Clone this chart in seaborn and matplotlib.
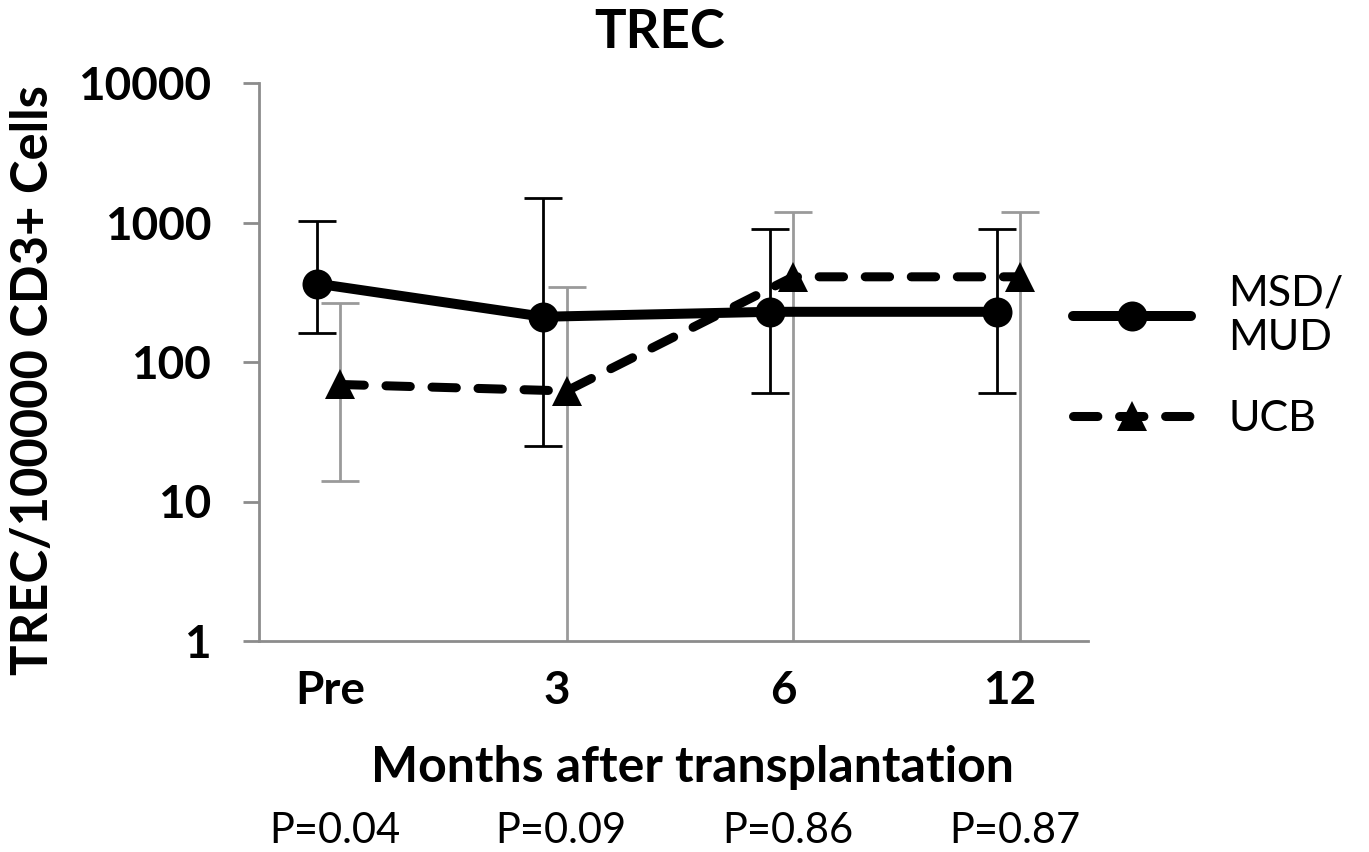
import numpy as np
import pandas as pd
import matplotlib
matplotlib.use("Agg")
import matplotlib.pyplot as plt
import matplotlib.transforms as mtransforms
from matplotlib.ticker import NullLocator
import seaborn as sns

# Time points and group summaries (TREC per 100000 CD3+ cells)
categories = ["Pre", "3", "6", "12"]
msd_mean = [365, 211, 229, 229]
msd_upper = [1020, 1500, 900, 900]
msd_lower = [162, 25, 60, 60]
ucb_mean = [69, 62, 408, 408]
ucb_upper = [266, 346, 1190, 1190]
ucb_lower = [14, 0.5, 0.5, 0.5]
p_values = ["P=0.04", "P=0.09", "P=0.86", "P=0.87"]
y_ticks = [1, 10, 100, 1000, 10000]

sns.set_theme(style="white")
plt.rcParams["font.family"] = ["Lato", "DejaVu Sans"]
plt.rcParams["text.color"] = "black"
plt.rcParams["axes.labelcolor"] = "black"
plt.rcParams["xtick.color"] = "black"
plt.rcParams["ytick.color"] = "black"

W, H = 1369, 852
fig = plt.figure(figsize=(W / 100, H / 100), dpi=100)
ax = fig.add_axes([259 / W, 1 - 641 / H, (1088 - 259) / W, (641 - 83) / H])

pos = np.arange(len(categories))
msd = pd.DataFrame({"x": pos - 0.059, "value": msd_mean,
                    "lo": msd_lower, "hi": msd_upper})
ucb = pd.DataFrame({"x": pos + 0.044, "value": ucb_mean,
                    "lo": ucb_lower, "hi": ucb_upper})

# asymmetric error bars
for d, col in ((msd, "black"), (ucb, "#9a9a9a")):
    ax.errorbar(d["x"], d["value"],
                yerr=[d["value"] - d["lo"], d["hi"] - d["value"]],
                fmt="none", ecolor=col, elinewidth=2, capsize=13.5,
                capthick=2, zorder=2)

sns.lineplot(data=msd, x="x", y="value", ax=ax, color="black",
             linewidth=7.2, marker="o", markersize=21.6, markeredgewidth=0,
             solid_joinstyle="round", label="MSD/\nMUD", zorder=3)
sns.lineplot(data=ucb, x="x", y="value", ax=ax, color="black",
             linewidth=6.5, linestyle=(0, (2.7, 2.4)), dash_capstyle="round",
             marker="^", markersize=22, markeredgewidth=0,
             label="UCB", zorder=4)

ax.set_yscale("log")
ax.set_ylim(1, 10000)
ax.set_yticks(y_ticks)
ax.set_yticklabels([str(v) for v in y_ticks])
ax.yaxis.set_minor_locator(NullLocator())
ax.set_xlim(-0.313, 3.344)
ax.set_xticks(pos)
ax.set_xticklabels(categories)
ax.set_xlabel("")

for side in ("top", "right"):
    ax.spines[side].set_visible(False)
for side in ("left", "bottom"):
    ax.spines[side].set_color("#8c8c8c")
    ax.spines[side].set_linewidth(2)

ax.tick_params(axis="y", direction="out", length=11.5, width=2,
               color="#8c8c8c", labelcolor="black", pad=23, labelsize=33,
               left=True)
ax.tick_params(axis="x", length=0, pad=21, labelsize=33, labelcolor="black",
               bottom=False)
for lbl in ax.get_xticklabels() + ax.get_yticklabels():
    lbl.set_fontweight("bold")

ax.set_ylabel("TREC/100000 CD3+ Cells", fontsize=36.5, fontweight="bold",
              color="black")
ax.yaxis.set_label_coords(-0.244, 0.468)

fig.text(660 / W, 1 - 48 / H, "TREC", ha="center", va="baseline",
         fontsize=38, fontweight="bold")
fig.text(692 / W, 1 - 782 / H, "Months after transplantation",
         ha="center", va="baseline", fontsize=36, fontweight="bold")

trans = mtransforms.blended_transform_factory(ax.transData, fig.transFigure)
for i, p in enumerate(p_values):
    ax.text(pos[i] + 0.02, 1 - 843 / H, p, transform=trans, ha="center",
            va="baseline", fontsize=30)

handles, labels = ax.get_legend_handles_labels()
ax.legend(handles, labels, loc="center left",
          bbox_to_anchor=(1073 / W, 1 - 356 / H), bbox_transform=fig.transFigure,
          frameon=False, fontsize=31, handlelength=2.74, handletextpad=0.86,
          borderpad=0, borderaxespad=0, labelspacing=1.0)

fig.savefig("out.png", dpi=100, facecolor="white")
